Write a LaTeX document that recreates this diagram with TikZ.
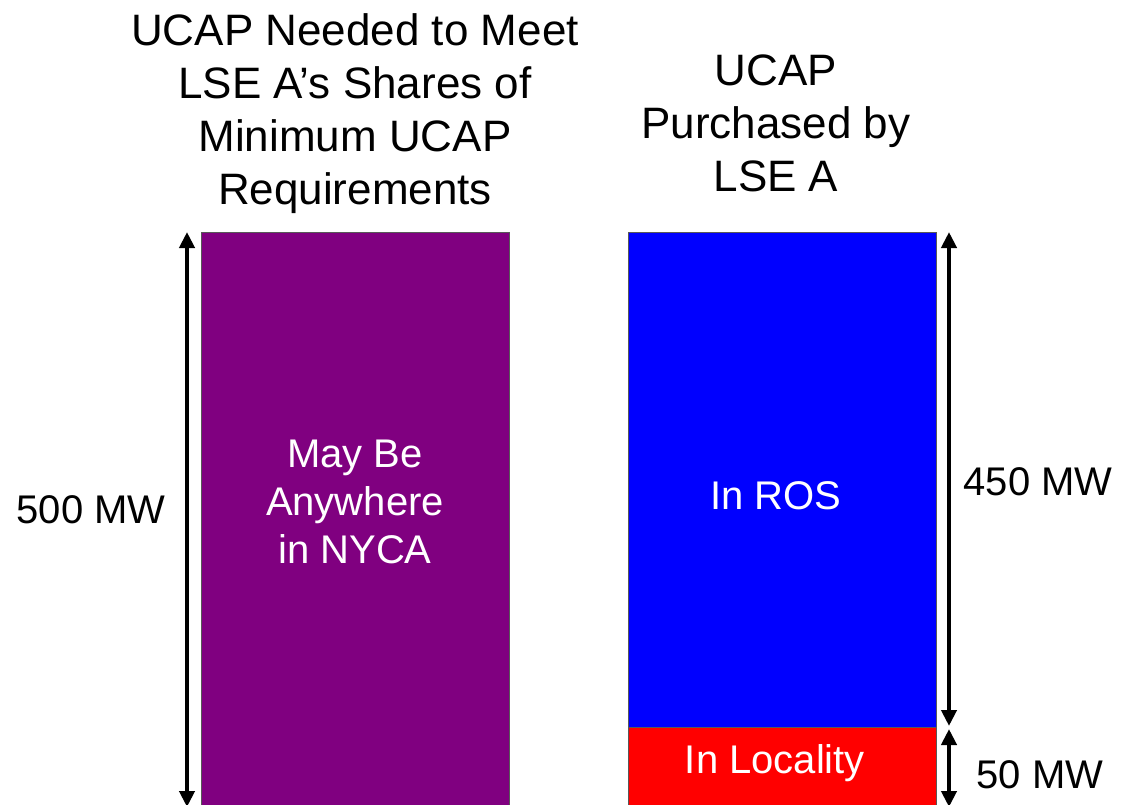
\documentclass[tikz,border=0pt]{standalone}
\usepackage{fontspec}
\setmainfont{Liberation Sans}
\usetikzlibrary{arrows.meta, positioning}

\definecolor{anyPurple}{HTML}{800080}
\definecolor{rosBlue}{HTML}{0000FF}
\definecolor{locRed}{HTML}{FF0000}

\tikzset{
  bar/.style={draw=black!65, line width=1.2pt, minimum width=308pt, anchor=north west, inner sep=0pt},
  dim/.style={{Triangle[length=16pt,width=15pt]}-{Triangle[length=16pt,width=15pt]}, line width=4pt},
  head/.style={align=center, font=\fontsize{44}{53}\selectfont, inner sep=0pt},
  lbl/.style={align=center, font=\fontsize{40}{48}\selectfont, inner sep=0pt},
}

\begin{document}
\begin{tikzpicture}[x=1pt, y=-1pt]
  \useasboundingbox (0,0) rectangle (1127,805);
  \clip (0,0) rectangle (1127,805);

  % bars
  \node[bar, fill=anyPurple, minimum height=600pt] (need) at (201,232) {};
  \node[bar, fill=rosBlue, minimum height=495pt] (ros) at (628,232) {};
  \node[bar, fill=locRed, minimum height=120pt] (loc) at (628,727) {};

  % titles
  \node[head] (t1) at (355,114) {UCAP Needed to Meet\\LSE A’s Shares of\\Minimum UCAP\\Requirements};
  \node[head] (t2) at (776,123) {UCAP\\Purchased by\\LSE A};

  % text inside bars
  \node[lbl, text=white] (any) at (355,502) {May Be\\Anywhere\\in NYCA};
  \node[lbl, text=white] (inros) at (776,496) {In ROS};
  \node[lbl, text=white] (inloc) at (775,763) {In Locality};

  % dimension arrows
  \coordinate (a1) at (187,232);
  \coordinate (a2) at (187,807);
  \coordinate (b1) at (949,232);
  \coordinate (b2) at (949,726);
  \coordinate (c1) at (949,729);
  \coordinate (c2) at (949,807);
  \draw[dim] (a1) -- (a2);
  \draw[dim] (b1) -- (b2);
  \draw[dim] (c1) -- (c2);

  \node[lbl] (mw500) at (91,510) {500 MW};
  \node[lbl] (mw450) at (1038,482) {450 MW};
  \node[lbl] (mw50) at (1040,775) {50 MW};
\end{tikzpicture}
\end{document}
